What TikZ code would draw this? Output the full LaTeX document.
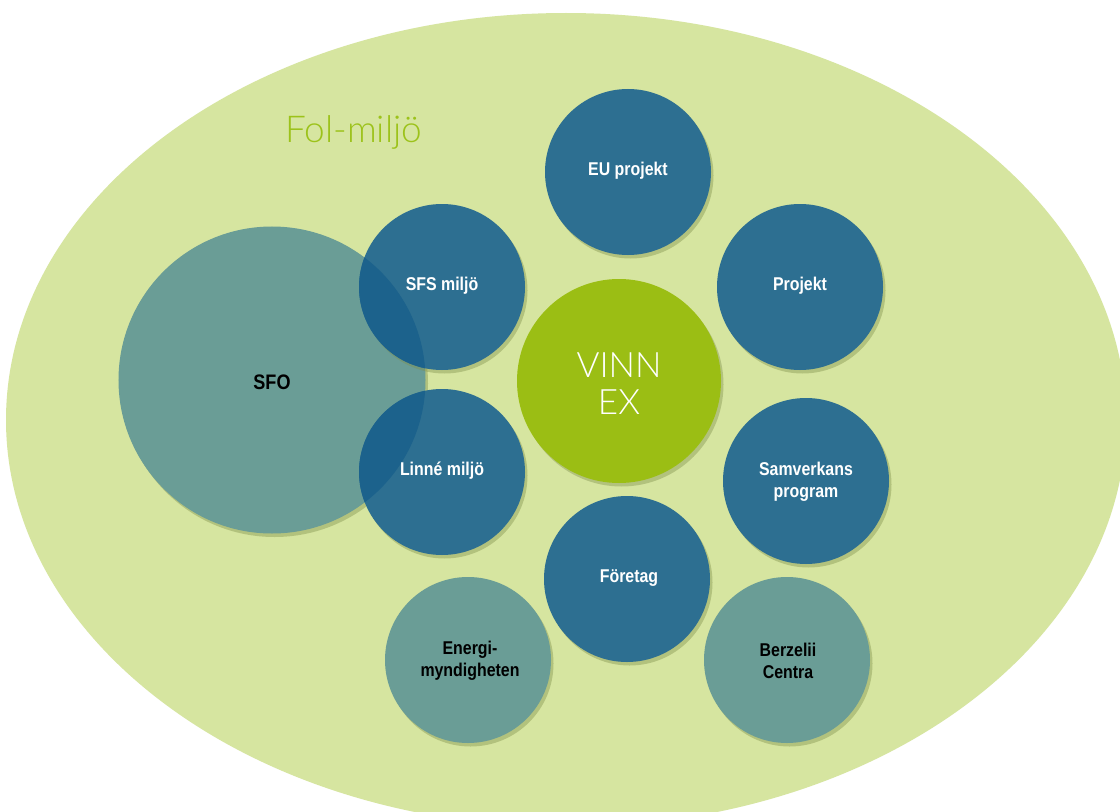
\documentclass[tikz,border=0pt]{standalone}
\usepackage{fontspec}
\setmainfont{Liberation Sans}
\newfontfamily\condfont[FakeStretch=0.86]{Liberation Sans}
\newfontfamily\lightfont{Lato Light}
\usetikzlibrary{shadows}
\definecolor{bgc}{HTML}{D6E5A0}
\definecolor{bluec}{HTML}{2D6F91}
\definecolor{overc}{HTML}{1C628C}
\definecolor{tealc}{HTML}{6A9D96}
\definecolor{limec}{HTML}{9BBE14}
\definecolor{titlec}{HTML}{9CC21A}
\definecolor{shadc}{HTML}{7E8F4A}
\tikzset{
  disc/.style={circle, inner sep=0pt, draw=none,
    drop shadow={shadow xshift=2.5bp, shadow yshift=-3.5bp, fill=shadc, opacity=0.4}},
  bluedisc/.style={disc, fill=bluec, minimum size=166bp},
  tealdisc/.style={disc, fill=tealc, minimum size=166bp},
  lbl/.style={align=center, inner sep=0pt, text=white,
    font=\condfont\bfseries\fontsize{18.5bp}{22bp}\selectfont},
  dlbl/.style={lbl, text=black},
  lightlbl/.style={align=center, inner sep=0pt, text=white,
    font=\lightfont\fontsize{35bp}{37bp}\selectfont},
}
\begin{document}
\begin{tikzpicture}[x=1bp, y=-1bp]
\useasboundingbox (0,0) rectangle (1120,812);
\fill[white] (0,0) rectangle (1120,812);
\begin{scope}
\clip (0,0) rectangle (1120,812);
% outer field
\fill[bgc] (566,420) ellipse[x radius=560, y radius=407];
\node[font=\lightfont\fontsize{37bp}{37bp}\selectfont, text=titlec,
  anchor=base west, inner sep=0pt] (title) at (285,142) {Fol-miljö};

% circles
\node[tealdisc, minimum size=307bp] (sfo) at (272,380) {};
\node[bluedisc] (sfs) at (442,287) {};
\node[bluedisc] (linne) at (442,472) {};
\begin{scope}
  \clip (sfo.center) circle[radius=153.5];
  \fill[overc] (sfs.center) circle[radius=83];
  \fill[overc] (linne.center) circle[radius=83];
\end{scope}
\node[bluedisc] (eu) at (628,172) {};
\node[bluedisc] (proj) at (800,287) {};
\node[disc, fill=limec, minimum size=204bp] (vinn) at (619,381) {};
\node[bluedisc] (samv) at (806,481) {};
\node[bluedisc] (foretag) at (627,579) {};
\node[tealdisc] (energi) at (468,660) {};
\node[tealdisc] (berz) at (787,660) {};

% labels
\node[dlbl, font=\condfont\bfseries\fontsize{21bp}{22bp}\selectfont] (t-sfo) at (272,382) {SFO};
\node[lbl] (t-sfs) at (442,286) {SFS miljö};
\node[lbl] (t-linne) at (442,471) {Linné miljö};
\node[lbl] (t-eu) at (628,171) {EU projekt};
\node[lbl] (t-proj) at (800,286) {Projekt};
\node[lightlbl] (t-vinn) at (619,384) {VINN\\EX};
\node[lbl] (t-samv) at (806,482) {Samverkans\\program};
\node[lbl] (t-foretag) at (629,578) {Företag};
\node[dlbl] (t-energi) at (470,661) {Energi-\\myndigheten};
\node[dlbl] (t-berz) at (788,661) {Berzelii\\Centra};
\end{scope}
\end{tikzpicture}
\end{document}
